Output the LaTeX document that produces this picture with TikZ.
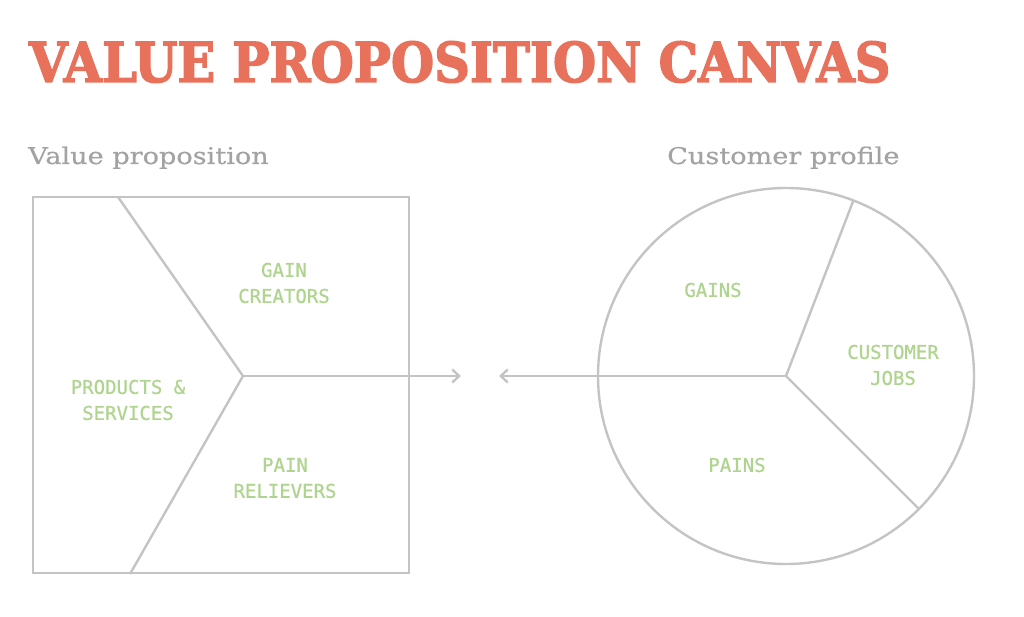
\documentclass[tikz,border=0pt]{standalone}
\usepackage{fontspec}
\usetikzlibrary{arrows.meta}
\newfontfamily\titlefont[FakeStretch=0.9,FakeBold=2.5]{DejaVu Serif Bold}
\newfontfamily\subfont[FakeStretch=1.18,FakeBold=0.6]{DejaVu Serif}
\newfontfamily\labelfont[FakeBold=0.8]{DejaVu Sans Mono}
\definecolor{titlered}{HTML}{E8715C}
\definecolor{subgray}{HTML}{A3A3A3}
\definecolor{linegray}{HTML}{C4C4C4}
\definecolor{labelgreen}{HTML}{AFD48F}

\begin{document}
\begin{tikzpicture}[
  x=1pt,y=-1pt,
  frame/.style={draw=linegray,line width=2.4pt},
  part/.style={linegray,line width=2.4pt},
  flow/.style={part,-{Straight Barb[length=7pt,width=13pt,line width=2.4pt]}},
  area/.style={text=labelgreen,font=\labelfont\fontsize{19}{26}\selectfont,align=center},
  heading/.style={text=subgray,font=\subfont\fontsize{23}{26}\selectfont,anchor=base west,inner sep=0pt}
]
  \useasboundingbox (0,0) rectangle (1024,617);

  \node[text=titlered,font=\titlefont\fontsize{55}{60}\selectfont,anchor=base west,inner sep=0pt]
    (title) at (29,82) {VALUE PROPOSITION CANVAS};
  \node[heading] (vphead) at (28,164) {Value proposition};
  \node[heading] (cphead) at (667,164) {Customer profile};

  % value proposition square
  \node[frame,minimum width=376pt,minimum height=376pt,inner sep=0pt] (vpbox) at (221,385) {};
  \coordinate (vpmid) at (243,376);
  \coordinate (vptop) at (118,197);
  \coordinate (vpbot) at (130,574);
  \coordinate (vptip) at (461,376);
  \draw[part] (vptop) -- (vpmid) -- (vpbot);
  \draw[flow] (vpmid) -- (vptip);

  % customer profile circle
  \node[frame,circle,minimum size=376pt,inner sep=0pt,outer sep=0pt] (cpcircle) at (786,376) {};
  \coordinate (cptip) at (499,376);
  \draw[part] (cpcircle.center) -- (cpcircle.69);
  \draw[part] (cpcircle.center) -- (cpcircle.-45.5);
  \draw[flow] (cpcircle.center) -- (cptip);

  \node[area] (gaincreators) at (284,283) {GAIN\\CREATORS};
  \node[area] (products) at (128,400) {PRODUCTS \&\\SERVICES};
  \node[area] (painrelievers) at (285,478) {PAIN\\RELIEVERS};
  \node[area] (gains) at (713,290) {GAINS};
  \node[area] (jobs) at (893,365) {CUSTOMER\\JOBS};
  \node[area] (pains) at (737,465) {PAINS};
\end{tikzpicture}
\end{document}
